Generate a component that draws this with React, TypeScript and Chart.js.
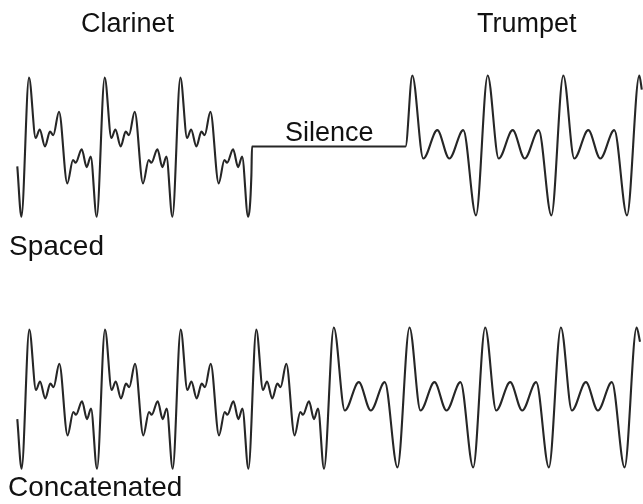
import React, { useEffect, useRef } from "react";
import { Chart, registerables } from "chart.js";

Chart.register(...registerables);

// One clarinet cycle: time offset from the cycle's main peak, and level
const clarinetPhase = [0, 6.7, 10.7, 16, 21, 24.3, 30, 38.3, 44, 46.7, 52.7, 57.7, 61.7, 67.7];
const clarinetLevel = [0.97, 0.12, 0.24, 0.0, 0.21, 0.16, 0.49, -0.52, -0.19, -0.23, -0.04, -0.29, -0.14, -0.99];

// One trumpet cycle
const trumpetPhase = [0, 11, 25, 37, 51, 63.7];
const trumpetLevel = [1.0, -0.17, 0.23, -0.17, 0.23, -0.97];

// Spaced: cycle peak times
const spacedLeadIn = [[17.3, -0.28], [21.4, -0.99]];
const spacedClarinetPeaks = [29, 104.7, 180.4];
const spacedCut = [[251.4, -0.4], [252, 0]];
const spacedSilenceEnd = [[405.5, 0]];
const spacedTrumpetPeaks = [412.3, 487.7, 563.3];
const spacedTail = [[639.3, 1.0], [641.8, 0.8]];

// Concatenated: cycle peak times
const concatLeadIn = [[17.3, -0.29], [21.6, -0.99]];
const concatClarinetPeaks = [29.3, 105, 180.7, 256.3];
const concatTrumpetPeaks = [333.8, 409.5, 485.2, 560.9];
const concatTail = [[636.6, 1.0], [640, 0.8]];

const timeMax = 643;
const levelMax = 2.063;
const levelMin = -1.486;

type P = { x: number; y: number };

function cycles(peaks: number[], phase: number[], level: number[]): P[] {
  const out: P[] = [];
  peaks.forEach((t) => phase.forEach((p, i) => out.push({ x: t + p, y: level[i] })));
  return out;
}
const pts = (a: number[][]): P[] => a.map(([x, y]) => ({ x, y }));

const spacedData: P[] = [
  ...pts(spacedLeadIn),
  ...cycles(spacedClarinetPeaks, clarinetPhase, clarinetLevel),
  ...pts(spacedCut),
  ...pts(spacedSilenceEnd),
  ...cycles(spacedTrumpetPeaks, trumpetPhase, trumpetLevel),
  ...pts(spacedTail),
];

const concatData: P[] = [
  ...pts(concatLeadIn),
  ...cycles(concatClarinetPeaks, clarinetPhase, clarinetLevel),
  ...cycles(concatTrumpetPeaks, trumpetPhase, trumpetLevel),
  ...pts(concatTail),
];

function Wave({ data, top }: { data: P[]; top: number }) {
  const ref = useRef<HTMLCanvasElement | null>(null);
  useEffect(() => {
    if (!ref.current) return;
    const chart = new Chart(ref.current, {
      type: "line",
      data: {
        datasets: [
          {
            data,
            borderColor: "#262626",
            borderWidth: 2.1,
            pointRadius: 0,
            cubicInterpolationMode: "monotone",
            fill: false,
          },
        ],
      },
      options: {
        animation: false,
        responsive: false,
        events: [],
        layout: { padding: 0 },
        plugins: { legend: { display: false }, tooltip: { enabled: false }, title: { display: false } },
        scales: {
          x: { type: "linear", min: 0, max: timeMax, display: false },
          y: { type: "linear", min: levelMin, max: levelMax, display: false },
        },
      },
    });
    return () => chart.destroy();
  }, [data]);
  return (
    <canvas
      ref={ref}
      width={643}
      height={252}
      style={{ position: "absolute", left: 0, top, width: 643, height: 252 }}
    />
  );
}

const labelStyle: React.CSSProperties = {
  position: "absolute",
  fontFamily: '"Liberation Sans", Arial, sans-serif',
  color: "#111",
  whiteSpace: "nowrap",
};
const small: React.CSSProperties = { ...labelStyle, fontSize: 27, lineHeight: "27px" };
const big: React.CSSProperties = { ...labelStyle, fontSize: 28, lineHeight: "28px" };

export default function App() {
  return (
    <div style={{ position: "absolute", left: 0, top: 0, width: 643, height: 504, background: "#fff", overflow: "hidden" }}>
      <Wave data={spacedData} top={0} />
      <Wave data={concatData} top={252} />
      <div style={{ ...small, left: 81, top: 10 }}>Clarinet</div>
      <div style={{ ...small, left: 477, top: 10 }}>Trumpet</div>
      <div style={{ ...small, left: 285, top: 119 }}>Silence</div>
      <div style={{ ...big, left: 9, top: 232 }}>Spaced</div>
      <div style={{ ...big, left: 8, top: 473 }}>Concatenated</div>
    </div>
  );
}
